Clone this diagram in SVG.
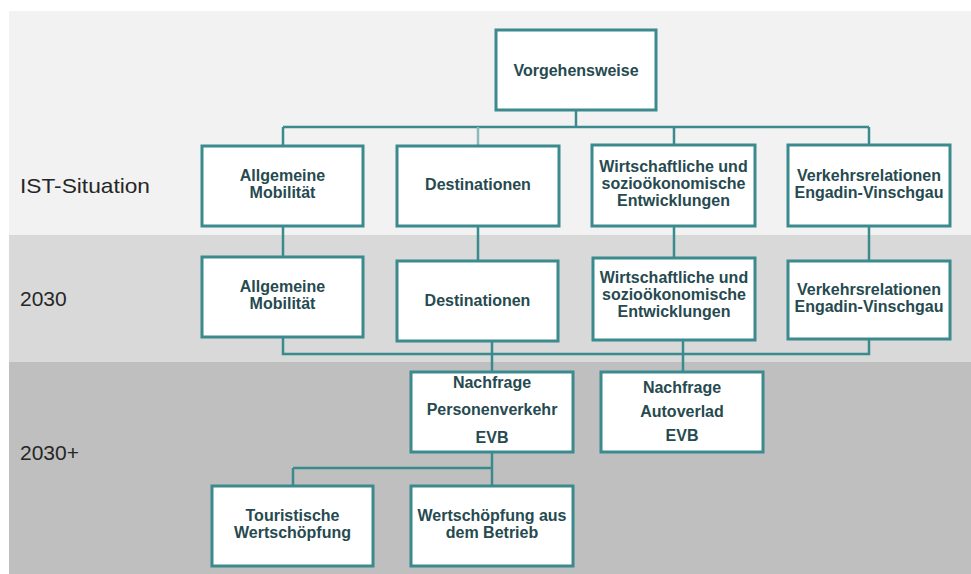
<svg xmlns="http://www.w3.org/2000/svg" width="971" height="574" viewBox="0 0 971 574">
<style>
.box{fill:#ffffff;stroke:#3b8a8e;stroke-width:3}
.t{font-family:"Liberation Sans",Arial,sans-serif;font-weight:bold;font-size:16px;fill:#264a4f;text-anchor:middle}
.lab{font-family:"Liberation Sans",Arial,sans-serif;font-size:21px;fill:#262626}
.c{fill:none;stroke:#3b8a8e;stroke-width:2.5}
</style>
<rect x="0" y="0" width="971" height="574" fill="#ffffff"/>
<rect x="9" y="11" width="962" height="224" fill="#f2f2f2"/>
<rect x="9" y="235" width="962" height="127" fill="#d9d9d9"/>
<rect x="9" y="362" width="962" height="212" fill="#bfbfbf"/>
<text class="lab" x="20" y="193" textLength="130" lengthAdjust="spacingAndGlyphs">IST-Situation</text>
<text class="lab" x="20" y="306">2030</text>
<text class="lab" x="20" y="460">2030+</text>
<g id="connectors">
<path class="c" d="M576 110V127M283 127H869M283 127V146M674 127V146M869 127V146"/>
<path d="M478 127V146" fill="none" stroke="#8fb8ba" stroke-width="2.5"/>
<path class="c" d="M283 226V257M478 226V261M674 226V258M869 226V261"/>
<path class="c" d="M283 337V354H869V339M492 341V372M683 340V372"/>
<path class="c" d="M492 452V486M293 468H492M293 468V486"/>
</g>
<g id="vorgehensweise"><rect class="box" x="496" y="30" width="160" height="80"/><text class="t" x="576" y="76">Vorgehensweise</text></g>
<g id="ist-mobilitaet"><rect class="box" x="202" y="146" width="161" height="80"/><text class="t" x="282.5" y="181">Allgemeine</text><text class="t" x="282.5" y="198">Mobilität</text></g>
<g id="ist-destinationen"><rect class="box" x="397" y="146" width="162" height="80"/><text class="t" x="478" y="190">Destinationen</text></g>
<g id="ist-wirtschaft"><rect class="box" x="592" y="145" width="163" height="81"/><text class="t" x="673.5" y="172">Wirtschaftliche und</text><text class="t" x="673.5" y="189">sozioökonomische</text><text class="t" x="673.5" y="206">Entwicklungen</text></g>
<g id="ist-verkehr"><rect class="box" x="788" y="145" width="162" height="81"/><text class="t" x="869" y="181">Verkehrsrelationen</text><text class="t" x="869" y="198">Engadin-Vinschgau</text></g>
<g id="z-mobilitaet"><rect class="box" x="202" y="257" width="161" height="80"/><text class="t" x="282.5" y="292">Allgemeine</text><text class="t" x="282.5" y="309">Mobilität</text></g>
<g id="z-destinationen"><rect class="box" x="397" y="261" width="161" height="80"/><text class="t" x="477.5" y="306">Destinationen</text></g>
<g id="z-wirtschaft"><rect class="box" x="593" y="258" width="162" height="82"/><text class="t" x="674" y="283">Wirtschaftliche und</text><text class="t" x="674" y="300">sozioökonomische</text><text class="t" x="674" y="317">Entwicklungen</text></g>
<g id="z-verkehr"><rect class="box" x="788" y="261" width="162" height="78"/><text class="t" x="869" y="295">Verkehrsrelationen</text><text class="t" x="869" y="312">Engadin-Vinschgau</text></g>
<g id="nachfrage-personen"><rect class="box" x="411" y="372" width="162" height="80"/><text class="t" x="492" y="388">Nachfrage</text><text class="t" x="492" y="415">Personenverkehr</text><text class="t" x="492" y="443">EVB</text></g>
<g id="nachfrage-auto"><rect class="box" x="601" y="372" width="162" height="80"/><text class="t" x="682" y="393">Nachfrage</text><text class="t" x="682" y="417">Autoverlad</text><text class="t" x="682" y="441">EVB</text></g>
<g id="touristische"><rect class="box" x="212" y="486" width="161" height="80"/><text class="t" x="292.5" y="521">Touristische</text><text class="t" x="292.5" y="538">Wertschöpfung</text></g>
<g id="betrieb"><rect class="box" x="411" y="486" width="162" height="80"/><text class="t" x="492" y="521">Wertschöpfung aus</text><text class="t" x="492" y="538">dem Betrieb</text></g>
</svg>
